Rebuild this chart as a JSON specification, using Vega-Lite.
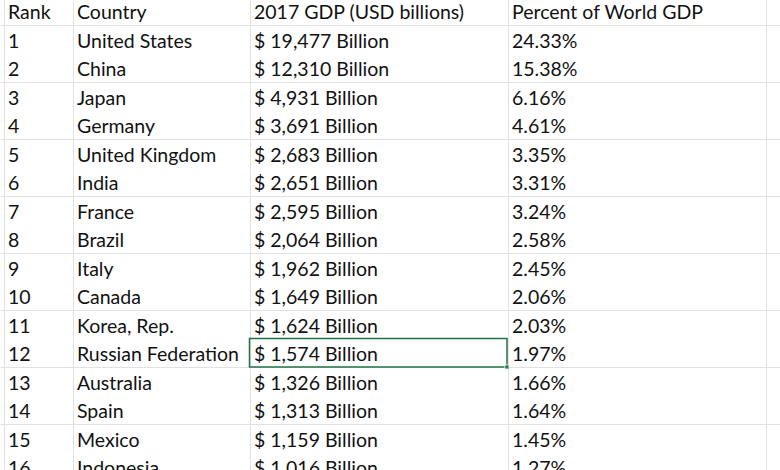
{
  "$schema": "https://vega.github.io/schema/vega-lite/v6.json",
  "width": 780,
  "height": 470,
  "padding": 0,
  "autosize": {"type": "none"},
  "background": "white",
  "config": {
    "view": {"stroke": null},
    "axis": {"minExtent": 0, "maxExtent": 0, "offset": 0, "labelPadding": 0, "tickSize": 0},
    "text": {"font": "Lato", "fontSize": 19.5, "color": "#111111", "align": "left", "baseline": "middle", "dy": 2.5}
  },
  "data": {
    "values": [
      {"r": 0, "rank": "Rank", "country": "Country", "gdp": "2017 GDP (USD billions)", "pct": "Percent of World GDP"},
      {"r": 1, "rank": "1", "country": "United States", "gdp": "$ 19,477 Billion", "pct": "24.33%"},
      {"r": 2, "rank": "2", "country": "China", "gdp": "$ 12,310 Billion", "pct": "15.38%"},
      {"r": 3, "rank": "3", "country": "Japan", "gdp": "$ 4,931 Billion", "pct": "6.16%"},
      {"r": 4, "rank": "4", "country": "Germany", "gdp": "$ 3,691 Billion", "pct": "4.61%"},
      {"r": 5, "rank": "5", "country": "United Kingdom", "gdp": "$ 2,683 Billion", "pct": "3.35%"},
      {"r": 6, "rank": "6", "country": "India", "gdp": "$ 2,651 Billion", "pct": "3.31%"},
      {"r": 7, "rank": "7", "country": "France", "gdp": "$ 2,595 Billion", "pct": "3.24%"},
      {"r": 8, "rank": "8", "country": "Brazil", "gdp": "$ 2,064 Billion", "pct": "2.58%"},
      {"r": 9, "rank": "9", "country": "Italy", "gdp": "$ 1,962 Billion", "pct": "2.45%"},
      {"r": 10, "rank": "10", "country": "Canada", "gdp": "$ 1,649 Billion", "pct": "2.06%"},
      {"r": 11, "rank": "11", "country": "Korea, Rep.", "gdp": "$ 1,624 Billion", "pct": "2.03%"},
      {"r": 12, "rank": "12", "country": "Russian Federation", "gdp": "$ 1,574 Billion", "pct": "1.97%"},
      {"r": 13, "rank": "13", "country": "Australia", "gdp": "$ 1,326 Billion", "pct": "1.66%"},
      {"r": 14, "rank": "14", "country": "Spain", "gdp": "$ 1,313 Billion", "pct": "1.64%"},
      {"r": 15, "rank": "15", "country": "Mexico", "gdp": "$ 1,159 Billion", "pct": "1.45%"},
      {"r": 16, "rank": "16", "country": "Indonesia", "gdp": "$ 1,016 Billion", "pct": "1.27%"}
    ]
  },
  "resolve": {"scale": {"x": "shared", "y": "shared"}},
  "layer": [
    {
      "mark": {"type": "text"},
      "encoding": {
        "x": {"datum": 8, "type": "quantitative", "scale": {"domain": [0, 780], "nice": false, "zero": false},
              "axis": {"values": [4, 73, 250, 508, 766], "grid": true, "gridColor": "#e1e1e1", "gridWidth": 1, "labels": false, "ticks": false, "domain": false, "title": null}},
        "y": {"field": "r", "type": "quantitative", "scale": {"domain": [-0.3767, 16.109], "nice": false, "zero": false, "reverse": true},
              "axis": {"values": [0.5, 1.5, 2.5, 3.5, 4.5, 5.5, 6.5, 7.5, 8.5, 9.5, 10.5, 11.5, 12.5, 13.5, 14.5, 15.5], "grid": true, "gridColor": "#e1e1e1", "gridWidth": 1, "labels": false, "ticks": false, "domain": false, "title": null}},
        "text": {"field": "rank", "type": "nominal"}
      }
    },
    {
      "mark": {"type": "text"},
      "encoding": {
        "x": {"datum": 77, "type": "quantitative"},
        "y": {"field": "r", "type": "quantitative"},
        "text": {"field": "country", "type": "nominal"}
      }
    },
    {
      "mark": {"type": "text"},
      "encoding": {
        "x": {"datum": 254, "type": "quantitative"},
        "y": {"field": "r", "type": "quantitative"},
        "text": {"field": "gdp", "type": "nominal"}
      }
    },
    {
      "mark": {"type": "text"},
      "encoding": {
        "x": {"datum": 512, "type": "quantitative"},
        "y": {"field": "r", "type": "quantitative"},
        "text": {"field": "pct", "type": "nominal"}
      }
    },
    {
      "transform": [{"filter": "datum.r == 12"}],
      "mark": {"type": "rect", "fill": null, "stroke": "#217346", "strokeWidth": 1.5},
      "encoding": {
        "x": {"datum": 249.5, "type": "quantitative"},
        "x2": {"datum": 507},
        "y": {"datum": 11.5, "type": "quantitative"},
        "y2": {"datum": 12.5}
      }
    },
    {
      "transform": [{"filter": "datum.r == 12"}],
      "mark": {"type": "square", "filled": true, "color": "#217346", "size": 20, "stroke": "white", "strokeWidth": 1},
      "encoding": {
        "x": {"datum": 507, "type": "quantitative"},
        "y": {"datum": 12.5, "type": "quantitative"}
      }
    }
  ]
}
